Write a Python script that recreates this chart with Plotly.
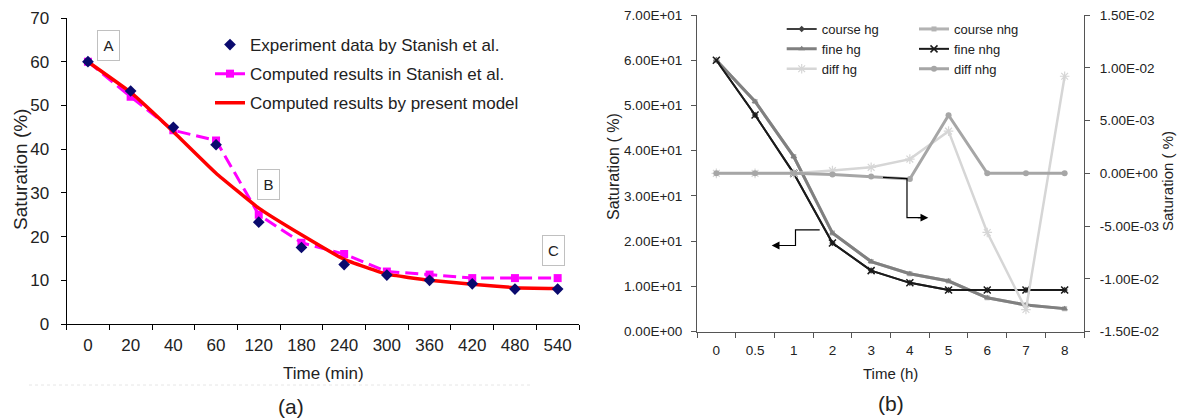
import plotly.graph_objects as go

W, H = 1179, 419

# ---------------- data: panel (a) ----------------
time_min = ["0", "20", "40", "60", "120", "180", "240", "300", "360", "420", "480", "540"]
exp_data = [60, 53.3, 45, 41, 23.3, 17.5, 13.6, 11.2, 10, 9.2, 8, 8]
stanish = [60, 52, 44.3, 42, 25, 18.6, 16, 12, 11.3, 10.5, 10.5, 10.5]
present = [60, 53, 44, 34.5, 26.5, 20.4, 14.8, 11.4, 10, 9.1, 8.3, 8.1]
y1_ticks = [0, 10, 20, 30, 40, 50, 60, 70]

# ---------------- data: panel (b) ----------------
time_h = ["0", "0.5", "1", "2", "3", "4", "5", "6", "7", "8"]
course_hg = [60, 47.9, 35, 19.6, 13.5, 10.8, 9.2, 9.2, 9.2, 9.2]
course_nhg = [60, 50.9, 38.7, 21.8, 15.5, 12.8, 11.2, 7.5, 5.9, 5.1]
fine_hg = [60, 50.9, 38.7, 21.8, 15.5, 12.8, 11.2, 7.5, 5.9, 5.1]
fine_nhg = [60, 47.9, 35, 19.6, 13.5, 10.8, 9.2, 9.2, 9.2, 9.2]
diff_hg = [0, 0, 0, 0.00026, 0.00057, 0.00135, 0.004, -0.0056, -0.0129, 0.0092]
diff_nhg = [0, 0, 0, -0.00012, -0.0003, -0.00053, 0.0055, 0, 0, 0]
y2_ticks = [0, 10, 20, 30, 40, 50, 60, 70]
y3_ticks = [-0.015, -0.01, -0.005, 0, 0.005, 0.01, 0.015]

FONT = "Liberation Sans, Arial, sans-serif"

fig = go.Figure()

# panel (a) traces (legendrank keeps legend order, drawing order puts diamonds on top)
fig.add_trace(go.Scatter(
    x=time_min, y=stanish, name="Computed results in Stanish et al.",
    mode="lines+markers", line=dict(color="#FF00FF", width=3, dash="13px,6px"),
    marker=dict(symbol="square", size=8, color="#FF00FF"),
    xaxis="x", yaxis="y", legend="legend", legendrank=2, legendgroup="b"))
fig.add_trace(go.Scatter(
    x=time_min, y=present, name="Computed results by present model",
    mode="lines", line=dict(color="#FF0000", width=3.5, shape="spline", smoothing=0.3),
    xaxis="x", yaxis="y", legend="legend", legendrank=3, legendgroup="c"))
fig.add_trace(go.Scatter(
    x=time_min, y=exp_data, name="Experiment data by Stanish et al.",
    mode="markers", marker=dict(symbol="diamond", size=9, color="#0A0A6E"),
    xaxis="x", yaxis="y", legend="legend", legendrank=1, legendgroup="a"))

# panel (b) traces
fig.add_trace(go.Scatter(
    x=time_h, y=course_hg, name="course hg", mode="lines+markers",
    line=dict(color="#404040", width=2), marker=dict(symbol="diamond", size=5, color="#404040"),
    xaxis="x2", yaxis="y2", legend="legend2"))
fig.add_trace(go.Scatter(
    x=time_h, y=course_nhg, name="course nhg", mode="lines+markers",
    line=dict(color="#B3B3B3", width=3), marker=dict(symbol="square", size=5, color="#B3B3B3"),
    xaxis="x2", yaxis="y2", legend="legend3"))
fig.add_trace(go.Scatter(
    x=time_h, y=fine_hg, name="fine hg", mode="lines+markers",
    line=dict(color="#808080", width=3), marker=dict(symbol="triangle-up", size=6, color="#808080"),
    xaxis="x2", yaxis="y2", legend="legend2"))
fig.add_trace(go.Scatter(
    x=time_h, y=fine_nhg, name="fine nhg", mode="lines+markers",
    line=dict(color="#1A1A1A", width=2),
    marker=dict(symbol="x-thin", size=7, color="#1A1A1A", line=dict(width=1.5, color="#1A1A1A")),
    xaxis="x2", yaxis="y2", legend="legend3"))
fig.add_trace(go.Scatter(
    x=time_h, y=diff_hg, name="diff hg", mode="lines+markers",
    line=dict(color="#D6D6D6", width=2.5),
    marker=dict(symbol="asterisk-open", size=8, color="#D6D6D6", line=dict(width=1.2, color="#D6D6D6")),
    xaxis="x2", yaxis="y3", legend="legend2"))
fig.add_trace(go.Scatter(
    x=time_h, y=diff_nhg, name="diff nhg", mode="lines+markers",
    line=dict(color="#A6A6A6", width=3), marker=dict(symbol="circle", size=6, color="#A6A6A6"),
    xaxis="x2", yaxis="y3", legend="legend3"))

# domains from pixel layout
ax_a = dict(x0=66.6, x1=579.0, ytop=18.0, ybot=324.0)
ax_b = dict(x0=697.0, x1=1084.0, ytop=15.0, ybot=331.7)

def xdom(d):
    return [d["x0"] / W, d["x1"] / W]

def ydom(d):
    return [1 - d["ybot"] / H, 1 - d["ytop"] / H]

common_axis = dict(showgrid=False, zeroline=False, showline=True, ticks="outside", ticklen=5,
                   tickwidth=1, automargin=False)

fig.update_layout(
    width=W, height=H, margin=dict(l=0, r=0, t=0, b=0, autoexpand=False),
    paper_bgcolor="white", plot_bgcolor="white",
    font=dict(family=FONT, color="#222222"),
    xaxis=dict(domain=xdom(ax_a), type="category", tickson="boundaries", anchor="y",
               linecolor="#000000", tickcolor="#000000", tickfont=dict(size=17),
               range=[-0.5, 11.5], ticklabelstandoff=6, **common_axis),
    yaxis=dict(domain=ydom(ax_a), range=[0, 70], tickvals=y1_ticks, anchor="x",
               linecolor="#000000", tickcolor="#000000", tickfont=dict(size=17),
               ticklabelstandoff=8, **common_axis),
    xaxis2=dict(domain=xdom(ax_b), type="category", tickson="boundaries", anchor="y2",
                linecolor="#555555", tickcolor="#555555", tickfont=dict(size=13.5),
                range=[-0.5, 9.5], ticklabelstandoff=6, **common_axis),
    yaxis2=dict(domain=ydom(ax_b), range=[0, 70], tickvals=y2_ticks,
                ticktext=[f"{v:.2E}" for v in y2_ticks], anchor="x2",
                linecolor="#555555", tickcolor="#555555", tickfont=dict(size=13.5),
                ticklabelstandoff=6, **common_axis),
    yaxis3=dict(domain=ydom(ax_b), range=[-0.015, 0.015], tickvals=y3_ticks,
                ticktext=[f"{v:.2E}" for v in y3_ticks], anchor="x2", overlaying="y2",
                side="right", linecolor="#555555", tickcolor="#555555",
                tickfont=dict(size=13.5), ticklabelstandoff=7, **common_axis),
    legend=dict(x=210 / W, y=1 - 27 / H, xanchor="left", yanchor="top",
                bgcolor="rgba(0,0,0,0)", font=dict(size=17, color="#222222"),
                tracegroupgap=4, traceorder="grouped"),
    legend2=dict(x=781.7 / W, y=1 - 14 / H, xanchor="left", yanchor="top",
                 bgcolor="rgba(0,0,0,0)", font=dict(size=13, color="#222222"),
                 tracegroupgap=0),
    legend3=dict(x=914 / W, y=1 - 14 / H, xanchor="left", yanchor="top",
                 bgcolor="rgba(0,0,0,0)", font=dict(size=13, color="#222222"),
                 tracegroupgap=0),
    showlegend=True,
)

ann = []
def txt(text, xp, yp, size, angle=0):
    ann.append(dict(text=text, x=xp / W, y=1 - yp / H, xref="paper", yref="paper",
                    xanchor="center", yanchor="middle", showarrow=False, textangle=angle,
                    font=dict(size=size, color="#222222", family=FONT)))

txt("Saturation (%)", 20, 170, 19, -90)
txt("Time (min)", 323, 373, 17)
txt("(a)", 291, 406, 21)
txt("Saturation ( %)", 614, 167, 16, -90)
txt("Saturation ( %)", 1167, 181, 15, -90)
txt("Time (h)", 890, 373, 15)
txt("(b)", 891, 403, 21)

# labelled boxes A, B, C in panel (a)
for lab, fx, yv in [("A", 0.0818, 63.6), ("B", 0.395, 32.0), ("C", 0.951, 16.8)]:
    ann.append(dict(text=lab, x=fx, y=yv, xref="x domain", yref="y", showarrow=False,
                    xanchor="center", yanchor="middle", width=19, height=27,
                    bgcolor="white", bordercolor="#C0C0C0", borderwidth=1,
                    font=dict(size=15, color="#222222", family=FONT)))

# arrow heads in panel (b)
ann.append(dict(text="", x=0.193, y=19.05, xref="x2 domain", yref="y2", showarrow=True,
                ax=12, ay=0, arrowhead=2, arrowsize=1.3, arrowwidth=1.2, arrowcolor="#000000"))
ann.append(dict(text="", x=0.5977, y=-0.0042, xref="x2 domain", yref="y3", showarrow=True,
                ax=-12, ay=0, arrowhead=2, arrowsize=1.3, arrowwidth=1.2, arrowcolor="#000000"))

shapes = [
    dict(type="path", xref="x2 domain", yref="y2",
         path="M 0.317 22.5 L 0.2545 22.5 L 0.2545 19.05 L 0.21 19.05",
         line=dict(color="#000000", width=1.2)),
    dict(type="path", xref="x2 domain", yref="y3",
         path="M 0.4806 -0.00038 L 0.5426 -0.0005 L 0.5426 -0.0042 L 0.58 -0.0042",
         line=dict(color="#000000", width=1.2)),
    dict(type="line", xref="paper", yref="paper", x0=29 / W, x1=530 / W,
         y0=1 - 385 / H, y1=1 - 385 / H, line=dict(color="#E6E6E6", width=1, dash="dot")),
]
fig.update_layout(annotations=ann, shapes=shapes)

fig.write_html("out.html", config={"displayModeBar": False},
               post_script="document.body.style.margin='0px';document.body.style.overflow='hidden';")
